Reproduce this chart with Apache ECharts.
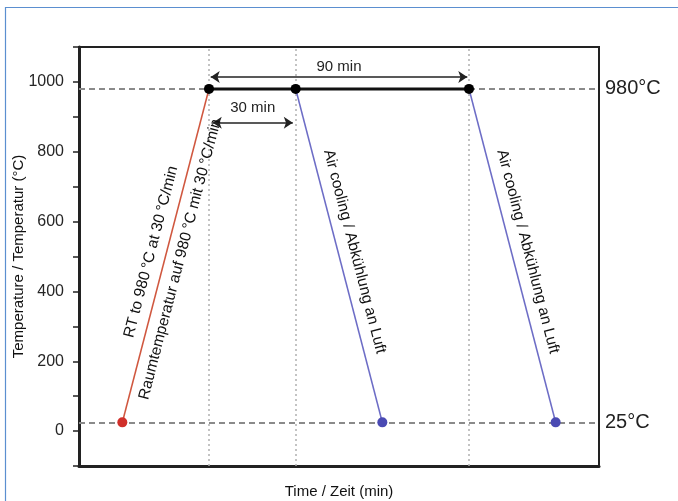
<!DOCTYPE html>
<html>
<head>
<meta charset="utf-8">
<script src="https://cdn.jsdelivr.net/npm/echarts@6/dist/echarts.min.js"></script>
<style>
  html, body { margin: 0; padding: 0; background: #fff; }
  #chart { width: 678px; height: 501px; }
</style>
</head>
<body>
<div id="chart"></div>
<script>
// Heat-treatment schedule: heat from room temperature, hold, air cool.
const tempTicks = [0, 200, 400, 600, 800, 1000];
const heatRamp = [[15, 25], [45, 980]];          // RT -> 980 °C at 30 °C/min
const holdPoints = [[45, 980], [75, 980], [135, 980]];
const coolAfter30 = [[75, 980], [105, 25]];
const coolAfter90 = [[135, 980], [165, 25]];
const refTemps = [980, 25];
const refLabels = ['980°C', '25°C'];
const markTimes = [45, 75, 135];
const holdSpans = [[45, 135], [45, 75]];
const spanLabels = ['90 min', '30 min'];

const FONT = '"Liberation Sans", Arial, Helvetica, sans-serif';
const INK = '#222';
const CLEAR = 'rgba(0,0,0,0)';

const chart = echarts.init(document.getElementById('chart'), null, { renderer: 'canvas' });

// arrow rows (in °C) for the two duration brackets
const spanLevels = [1014, 883];

// invisible guide along a segment, used only to carry a rotated label
function slopeLabel(seg, text, side, dist) {
  return [
    { coord: seg[0],
      lineStyle: { color: CLEAR, width: 0 },
      label: { show: true, position: side, distance: dist, formatter: text,
               fontFamily: FONT, fontSize: 15.5, color: '#111' } },
    { coord: seg[1] }
  ];
}

const option = {
  animation: false,
  backgroundColor: '#fff',
  graphic: [{
    type: 'polyline',
    shape: { points: [[5.5, 501], [5.5, 7.5], [678, 7.5]] },
    style: { stroke: '#5b8fd0', lineWidth: 1.2, fill: null },
    silent: true
  }],
  grid: {
    left: 79, right: 79, top: 47, bottom: 35,
    containLabel: false, outerBoundsMode: 'none',
    show: true, borderColor: INK, borderWidth: 2
  },
  xAxis: {
    type: 'value', min: 0, max: 180,
    name: 'Time / Zeit (min)', nameLocation: 'middle', nameGap: 18,
    nameMoveOverlap: false,
    nameTextStyle: { fontFamily: FONT, fontSize: 15, color: '#111' },
    axisLine: { show: true, onZero: false, lineStyle: { color: INK, width: 3 } },
    axisTick: { show: false }, axisLabel: { show: false },
    splitLine: { show: false }
  },
  yAxis: {
    type: 'value', min: -100, max: 1100, interval: 100,
    name: 'Temperature / Temperatur (°C)', nameLocation: 'middle', nameGap: 53,
    nameMoveOverlap: false,
    nameTextStyle: { fontFamily: FONT, fontSize: 15, color: '#111' },
    axisLine: { show: true, onZero: false, lineStyle: { color: INK, width: 3 } },
    axisTick: { show: true, inside: false, length: 6, lineStyle: { color: INK, width: 1.5 } },
    axisLabel: {
      margin: 15, fontFamily: FONT, fontSize: 16, color: '#262626',
      formatter: v => (tempTicks.indexOf(v) >= 0 ? String(v) : '')
    },
    splitLine: { show: false }
  },
  series: [
    // reference lines and markers
    {
      type: 'line', data: [], silent: true, z: 1,
      markLine: {
        silent: true, symbol: 'none', animation: false, z: 1,
        data: refTemps.map((t, i) => ({
          yAxis: t,
          lineStyle: { color: '#8a8a8a', type: [6, 4], width: 2 },
          label: {
            show: true, position: 'end', distance: 6,
            formatter: refLabels[i],
            fontFamily: FONT, fontSize: 20, color: INK
          }
        })).concat(markTimes.map(t => ({
          xAxis: t,
          lineStyle: { color: '#b0b0b0', type: [2, 3], width: 1.5 },
          label: { show: false }
        })))
      }
    },
    // duration brackets
    {
      type: 'line', data: [], silent: true, z: 3,
      markLine: {
        silent: true, animation: false,
        symbol: ['arrow', 'arrow'], symbolSize: [9, 9],
        lineStyle: { color: INK, type: 'solid', width: 1.5 },
        label: {
          show: true, position: 'middle',
          fontFamily: FONT, fontSize: 15, color: INK
        },
        data: holdSpans.map((s, i) => [
          { coord: [s[0] + (i ? 1.3 : 0.6), spanLevels[i]],
            label: { formatter: spanLabels[i], distance: i ? 7 : 3 } },
          { coord: [s[1] - (i ? 1.0 : 0.6), spanLevels[i]] }
        ])
      }
    },
    // heating ramp
    {
      type: 'line', z: 4,
      data: heatRamp.map((p, i) => i === 0 ? p : { value: p, symbol: 'none' }),
      lineStyle: { color: '#d0573f', width: 1.6 },
      symbol: 'circle', symbolSize: 10, showSymbol: true,
      itemStyle: { color: '#d02f2a' },
      markLine: {
        silent: true, symbol: 'none', animation: false,
        data: [
          slopeLabel(heatRamp, 'RT to 980\u2009°C at 30\u2009°C/min', 'insideMiddleTop', 7),
          slopeLabel(heatRamp, 'Raumtemperatur auf 980\u2009°C mit 30\u2009°C/min', 'insideMiddleBottom', 7)
        ]
      }
    },
    // air cooling after 30 min
    {
      type: 'line', z: 4,
      data: coolAfter30.map((p, i) => i === 1 ? p : { value: p, symbol: 'none' }),
      lineStyle: { color: '#6d6dc6', width: 1.6 },
      symbol: 'circle', symbolSize: 10,
      itemStyle: { color: '#4a4ab3' },
      markLine: {
        silent: true, symbol: 'none', animation: false,
        data: [slopeLabel(coolAfter30, 'Air cooling / Abkühlung an Luft', 'insideMiddleTop', 8)]
      }
    },
    // air cooling after 90 min
    {
      type: 'line', z: 4,
      data: coolAfter90.map((p, i) => i === 1 ? p : { value: p, symbol: 'none' }),
      lineStyle: { color: '#6d6dc6', width: 1.6 },
      symbol: 'circle', symbolSize: 10,
      itemStyle: { color: '#4a4ab3' },
      markLine: {
        silent: true, symbol: 'none', animation: false,
        data: [slopeLabel(coolAfter90, 'Air cooling / Abkühlung an Luft', 'insideMiddleTop', 8)]
      }
    },
    // isothermal hold at 980 °C
    {
      type: 'line', data: holdPoints, z: 5,
      lineStyle: { color: '#111', width: 3 },
      symbol: 'circle', symbolSize: 10,
      itemStyle: { color: '#000' }
    }
  ]
};

chart.setOption(option);
</script>
</body>
</html>
